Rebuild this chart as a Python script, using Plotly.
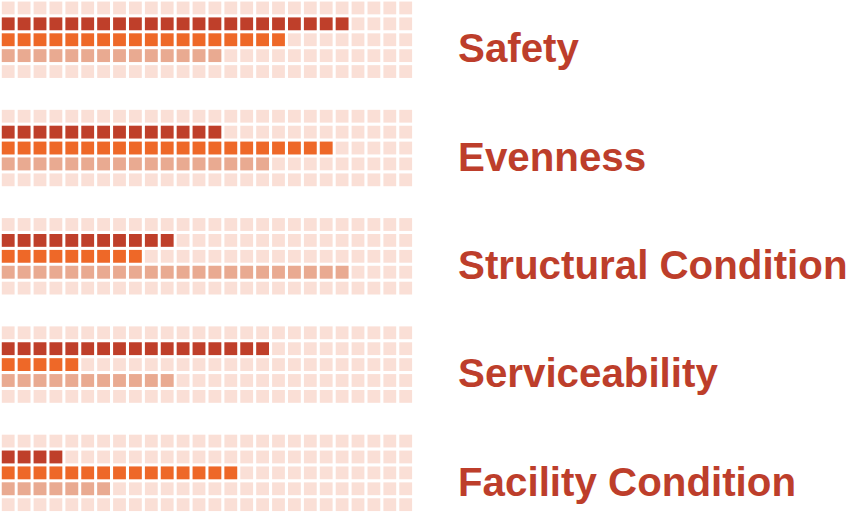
import plotly.graph_objects as go

# categories and how many cells each band fills (out of 26)
categories = ["Safety", "Evenness", "Structural Condition", "Serviceability", "Facility Condition"]
dark_counts = [22, 14, 11, 17, 4]
orange_counts = [18, 21, 9, 5, 15]
light_counts = [14, 17, 22, 11, 7]
n_cols = 26

# colours
c_bg = "#FADFD6"
c_dark = "#BF3F2A"
c_orange = "#EE6828"
c_light = "#E9AA91"
c_text = "#BD3E2B"

px = 15.9          # pixels per grid step
group_step = 6.81  # rows between group starts
y0 = 0.5

fig = go.Figure()

bx, by = [], []
cells = {c_dark: ([], []), c_orange: ([], []), c_light: ([], [])}
for g, name in enumerate(categories):
    top = y0 + g * group_step
    for r in range(5):
        for c in range(n_cols):
            bx.append(c)
            by.append(top + r)
    for r, (col, cnt) in enumerate([(c_dark, dark_counts[g]), (c_orange, orange_counts[g]), (c_light, light_counts[g])], start=1):
        for c in range(cnt):
            cells[col][0].append(c)
            cells[col][1].append(top + r)
    fig.add_annotation(x=28.17, y=top + 2.58, text="<b>" + name + "</b>", showarrow=False,
                       xanchor="left", yanchor="middle",
                       font=dict(family="Liberation Sans, Arial", size=40.3, color=c_text))

fig.add_trace(go.Scatter(x=bx, y=by, mode="markers", hoverinfo="skip",
                         marker=dict(symbol="square", size=12.8, color=c_bg, line=dict(width=0))))
for col, (xs, ys) in cells.items():
    fig.add_trace(go.Scatter(x=xs, y=ys, mode="markers", hoverinfo="skip",
                             marker=dict(symbol="square", size=12.8, color=col, line=dict(width=0))))

fig.update_layout(
    width=848, height=512, margin=dict(l=0, r=0, t=0, b=0),
    paper_bgcolor="white", plot_bgcolor="white", showlegend=False,
    xaxis=dict(range=[-0.516, -0.516 + 848 / px], visible=False, fixedrange=True),
    yaxis=dict(range=[512 / px, 0], visible=False, fixedrange=True),
)

# drop the page's default body margin so the figure sits at the corner
fig.write_html("out.html", config={"displayModeBar": False},
               post_script="document.body.style.margin='0';")
